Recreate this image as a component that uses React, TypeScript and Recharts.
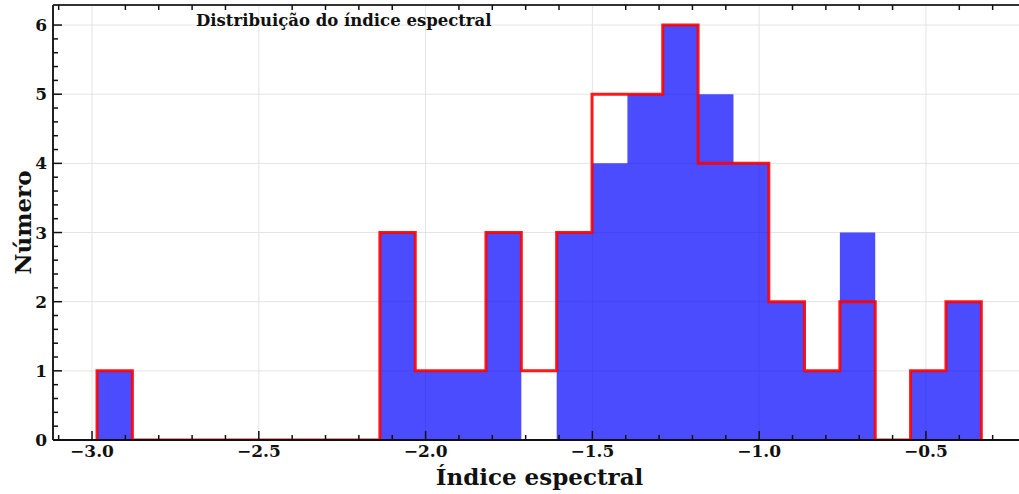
import React from 'react';
import { ComposedChart, Area, Line, XAxis, YAxis, CartesianGrid } from 'recharts';

// bin edges of the histogram (spectral index)
const binEdges = [
  -2.985, -2.879, -2.773, -2.667, -2.561, -2.455, -2.349, -2.243, -2.137, -2.031,
  -1.925, -1.819, -1.713, -1.607, -1.501, -1.395, -1.289, -1.183, -1.077, -0.971,
  -0.864, -0.758, -0.652, -0.546, -0.44, -0.334,
];
// counts per bin
const blueCounts = [1, 0, 0, 0, 0, 0, 0, 0, 3, 1, 1, 3, 0, 3, 4, 5, 6, 5, 4, 2, 1, 3, 0, 1, 2];
const redCounts = [1, 0, 0, 0, 0, 0, 0, 0, 3, 1, 1, 3, 1, 3, 5, 5, 6, 4, 4, 2, 1, 2, 0, 1, 2];

const xMajor = [-3.0, -2.5, -2.0, -1.5, -1.0, -0.5];
const xMinor = [
  -3.1, -2.9, -2.8, -2.7, -2.6, -2.4, -2.3, -2.2, -2.1, -1.9, -1.8, -1.7,
  -1.6, -1.4, -1.3, -1.2, -1.1, -0.9, -0.8, -0.7, -0.6, -0.4, -0.3,
];
const yMajor = [0, 1, 2, 3, 4, 5, 6];

const yMinor: number[] = [];
for (let i = 0; i < 31; i++) {
  if (i % 5 !== 0) yMinor.push(Math.round(i * 2) / 10);
}

const FONT = '"DejaVu Serif", serif';
const X_DOMAIN = [-3.117, -0.2];

// step outline data: start at zero, one point per left edge, close at the last edge
const chartData = [
  { x: binEdges[0], blue: 0, red: 0 },
  ...blueCounts.map((b, i) => ({ x: binEdges[i], blue: b, red: redCounts[i] })),
  { x: binEdges[binEdges.length - 1], blue: 0, red: 0 },
];

const isMajor = (v: number, list: number[]) => list.some(m => Math.abs(m - v) < 1e-6);
const fmt = (v: number, digits: number) => v.toFixed(digits).replace('-', '\u2212');

const BottomTick = ({ x, y, payload }: any) => {
  const major = isMajor(payload.value, xMajor);
  return (
    <g>
      <line x1={x} y1={y} x2={x} y2={y - (major ? 9 : 5)} stroke="#111" strokeWidth={1.5} />
      {major && (
        <text x={x} y={y + 17} textAnchor="middle" fontFamily={FONT} fontWeight="bold" fontSize={17} fill="#111">
          {fmt(payload.value, 1)}
        </text>
      )}
    </g>
  );
};

const TopTick = ({ x, y }: any) => (
  <line x1={x} y1={y} x2={x} y2={y + 5} stroke="#111" strokeWidth={1.5} />
);

const LeftTick = ({ x, y, payload }: any) => {
  const major = isMajor(payload.value, yMajor);
  return (
    <g>
      <line x1={x} y1={y} x2={x + (major ? 9 : 5)} y2={y} stroke="#111" strokeWidth={1.5} />
      {major && (
        <text x={x - 6} y={y + 6} textAnchor="end" fontFamily={FONT} fontWeight="bold" fontSize={17} fill="#111">
          {fmt(payload.value, 0)}
        </text>
      )}
    </g>
  );
};

const XTitle = ({ viewBox }: any) => (
  <text x={viewBox.x + viewBox.width / 2} y={viewBox.y + 45} textAnchor="middle" fontFamily={FONT} fontWeight="bold" fontSize={23} fill="#111">
    Índice espectral
  </text>
);

const YTitle = ({ viewBox }: any) => {
  const cx = viewBox.x + 31;
  const cy = viewBox.y + viewBox.height / 2;
  return (
    <text x={cx} y={cy} transform={`rotate(-90 ${cx} ${cy})`} textAnchor="middle" fontFamily={FONT} fontWeight="bold" fontSize={23} fill="#111">
      Número
    </text>
  );
};

const PlotTitle = ({ viewBox }: any) => (
  <text x={viewBox.x + 143} y={26} fontFamily={FONT} fontWeight="bold" fontSize={16.5} fill="#111">
    Distribuição do índice espectral
  </text>
);

export default function App() {
  return (
    <div style={{ position: 'absolute', left: 0, top: 0, width: 1019, height: 494, overflow: 'hidden', background: '#fff' }}>
      <ComposedChart width={1040} height={494} data={chartData} margin={{ top: 4, right: 14, bottom: 0, left: 0 }}>
        <CartesianGrid
          xAxisId="bottom"
          yAxisId="left"
          verticalValues={xMajor}
          horizontalValues={yMajor}
          stroke="#e4e4e4"
          strokeWidth={1}
        />
        <XAxis
          xAxisId="bottom"
          dataKey="x"
          type="number"
          domain={X_DOMAIN}
          allowDataOverflow
          ticks={[...xMajor, ...xMinor].sort((a, b) => a - b)}
          interval={0}
          tickSize={0}
          tickMargin={0}
          tick={<BottomTick />}
          axisLine={{ stroke: '#111', strokeWidth: 2 }}
          height={54}
          label={<XTitle />}
        />
        <XAxis
          xAxisId="top"
          dataKey="x"
          orientation="top"
          type="number"
          domain={X_DOMAIN}
          allowDataOverflow
          ticks={xMinor}
          interval={0}
          tickSize={0}
          tickMargin={0}
          tick={<TopTick />}
          axisLine={{ stroke: '#333', strokeWidth: 2 }}
          height={1}
          label={<PlotTitle />}
        />
        <YAxis
          yAxisId="left"
          type="number"
          domain={[0, 6.29]}
          allowDataOverflow
          ticks={[...yMajor, ...yMinor].sort((a, b) => a - b)}
          interval={0}
          tickSize={0}
          tickMargin={0}
          tick={<LeftTick />}
          axisLine={{ stroke: '#222', strokeWidth: 2 }}
          width={53}
          label={<YTitle />}
        />
        <Area
          xAxisId="bottom"
          yAxisId="left"
          type="stepAfter"
          dataKey="blue"
          fill="#0000ff"
          fillOpacity={0.7}
          stroke="none"
          isAnimationActive={false}
        />
        <Line
          xAxisId="top"
          yAxisId="left"
          type="stepAfter"
          dataKey="red"
          stroke="none"
          strokeOpacity={0}
          dot={false}
          activeDot={false}
          legendType="none"
          isAnimationActive={false}
        />
        <Line
          xAxisId="bottom"
          yAxisId="left"
          type="stepAfter"
          dataKey="red"
          stroke="#ff0000"
          strokeOpacity={0.9}
          strokeWidth={3}
          dot={false}
          activeDot={false}
          isAnimationActive={false}
        />
      </ComposedChart>
    </div>
  );
}
